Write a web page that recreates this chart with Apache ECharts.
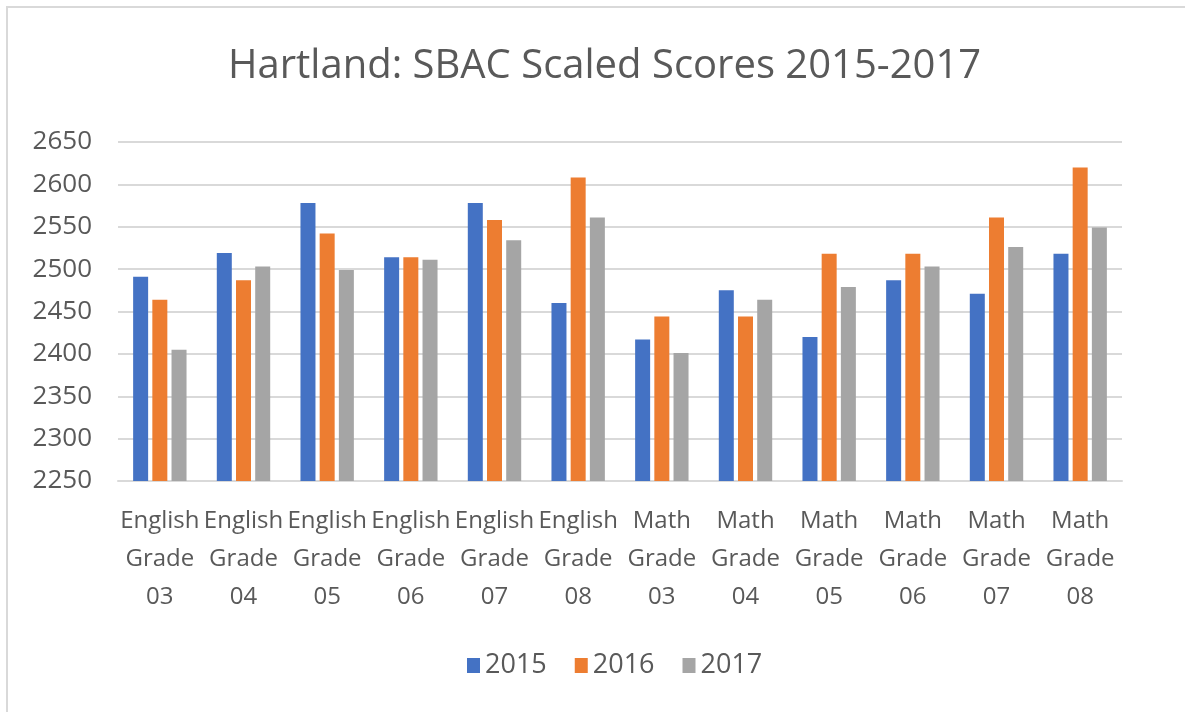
<!DOCTYPE html>
<html>
<head>
<meta charset="utf-8">
<script src="https://cdn.jsdelivr.net/npm/echarts@6/dist/echarts.min.js"></script>
<style>html,body{margin:0;padding:0;background:#fff}#c{width:1185px;height:712px}</style>
</head>
<body>
<div id="c"></div>
<script>
var categories = ["English\nGrade\n03","English\nGrade\n04","English\nGrade\n05","English\nGrade\n06","English\nGrade\n07","English\nGrade\n08","Math\nGrade\n03","Math\nGrade\n04","Math\nGrade\n05","Math\nGrade\n06","Math\nGrade\n07","Math\nGrade\n08"];
var s2015 = [2491, 2519, 2578, 2514, 2578, 2460, 2417, 2475, 2420, 2487, 2471, 2518];
var s2016 = [2464, 2487, 2542, 2514, 2558, 2608, 2444, 2444, 2518, 2518, 2561, 2620];
var s2017 = [2405, 2503, 2499, 2511, 2534, 2561, 2401, 2464, 2479, 2503, 2526, 2549];
var yMin = 2250, yMax = 2650, yStep = 50;

var FONT = "Open Sans";
var TXT = "#595959";
var chart = echarts.init(document.getElementById('c'));
function bar(name, data, color) {
  return {name: name, type: 'bar', data: data, barWidth: 15, barGap: '28%',
    itemStyle: {color: color}};
}
chart.setOption({
  animation: false,
  textStyle: {fontFamily: FONT},
  title: {text: "Hartland: SBAC Scaled Scores 2015-2017", left: 223, top: 42,
    textStyle: {fontFamily: FONT, fontSize: 40, fontWeight: 'normal', color: TXT}},
  graphic: [{type: 'rect', shape: {x: 7, y: 7, width: 1200, height: 720},
    style: {fill: 'none', stroke: '#d9d9d9', lineWidth: 2}, silent: true}],
  legend: {top: 647, left: 462, itemWidth: 13, itemHeight: 15, itemGap: 28,
    icon: 'rect', textStyle: {fontFamily: FONT, fontSize: 27, color: TXT}},
  grid: {left: 118, right: 63, top: 142, bottom: 231},
  xAxis: {type: 'category', data: categories,
    axisLine: {lineStyle: {color: '#d9d9d9', width: 2}}, axisTick: {show: false},
    axisLabel: {interval: 0, fontFamily: FONT, fontSize: 24, lineHeight: 38, color: TXT, margin: 21}},
  yAxis: {type: 'value', min: yMin, max: yMax, interval: yStep,
    axisLine: {show: false}, axisTick: {show: false},
    splitLine: {lineStyle: {color: '#d9d9d9', width: 2}},
    axisLabel: {fontFamily: FONT, fontSize: 26, color: TXT, margin: 26,
      formatter: function (v) { return String(v); }}},
  series: [bar('2015', s2015, '#4472C4'), bar('2016', s2016, '#ED7D31'), bar('2017', s2017, '#A5A5A5')]
});
</script>
</body>
</html>
